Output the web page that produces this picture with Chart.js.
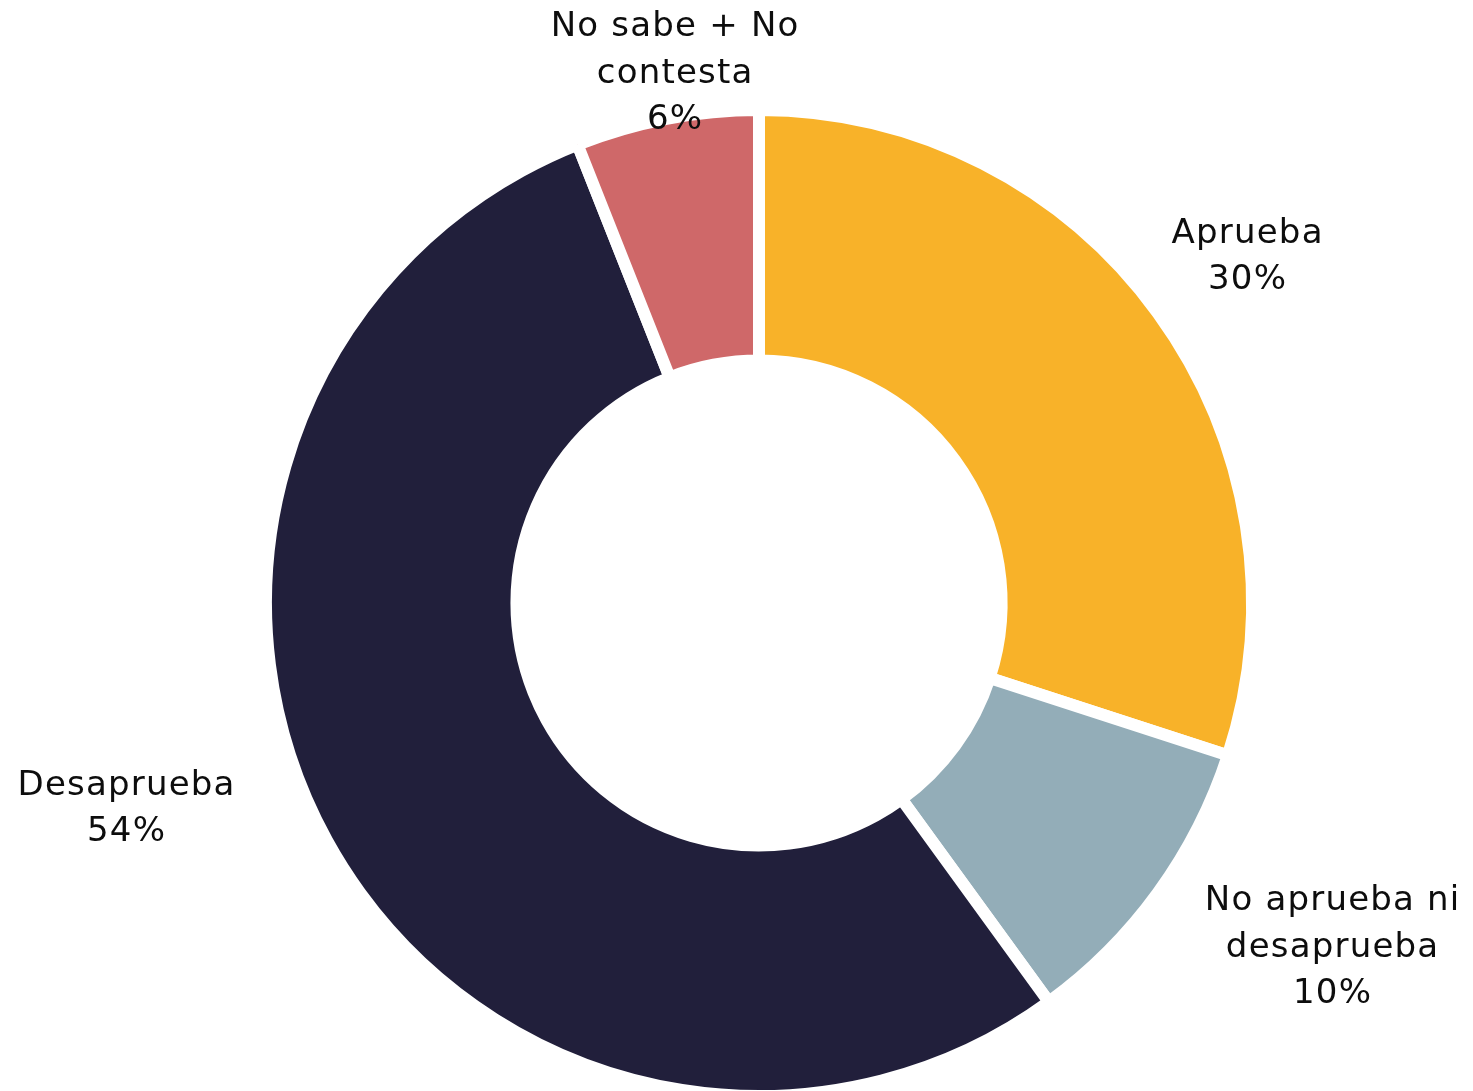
<!DOCTYPE html>
<html><head><meta charset="utf-8">
<script src="https://cdn.jsdelivr.net/npm/chart.js@4"></script>
<style>html,body{margin:0;padding:0;overflow:hidden;background:#fff}#wrap{width:1473px;height:1102px;position:relative}</style>
</head><body><div id="wrap"><canvas id="c"></canvas></div>
<script>
const categories = ['Aprueba', 'No aprueba ni desaprueba', 'Desaprueba', 'No sabe + No contesta'];
const values = [30, 10, 54, 6];
const labelLines = [['Aprueba'], ['No aprueba ni', 'desaprueba'], ['Desaprueba'], ['No sabe + No', 'contesta']];
const colors = ['#F8B229', '#93ADB8', '#211F3B', '#CF6869'];
const labelNudge = [[10, 2], [95, -3], [-114, -79], [27, 52]];

const outsideLabels = {
  id: 'outsideLabels',
  afterDatasetsDraw(chart) {
    const ctx = chart.ctx;
    const meta = chart.getDatasetMeta(0);
    ctx.save();
    ctx.font = '34px "DejaVu Sans"';
    ctx.letterSpacing = '1.2px';
    ctx.fillStyle = '#0d0d0d';
    ctx.textAlign = 'center';
    ctx.textBaseline = 'middle';
    const lh = 46.5;
    meta.data.forEach((arc, i) => {
      const p = arc.getProps(['x', 'y', 'startAngle', 'endAngle', 'outerRadius'], true);
      const mid = (p.startAngle + p.endAngle) / 2;
      const r = p.outerRadius * 1.2;
      const cx = p.x + Math.cos(mid) * r + labelNudge[i][0];
      const cy = p.y + Math.sin(mid) * r + labelNudge[i][1];
      const lines = [...labelLines[i], values[i] + '%'];
      const top = cy - (lines.length - 1) * lh / 2;
      lines.forEach((t, k) => ctx.fillText(t, cx, top + k * lh));
    });
    ctx.restore();
  }
};

new Chart(document.getElementById('c'), {
  type: 'doughnut',
  data: {
    labels: categories,
    datasets: [{
      data: values,
      backgroundColor: colors,
      borderColor: '#ffffff',
      borderWidth: 12,
      borderJoinStyle: 'miter'
    }]
  },
  options: {
    responsive: true,
    maintainAspectRatio: false,
    animation: false,
    cutout: '49.2%',
    layout: { padding: { left: 260, right: 215, top: 104, bottom: 0 } },
    plugins: { legend: { display: false }, tooltip: { enabled: false } }
  },
  plugins: [outsideLabels]
});
</script>
</body></html>
